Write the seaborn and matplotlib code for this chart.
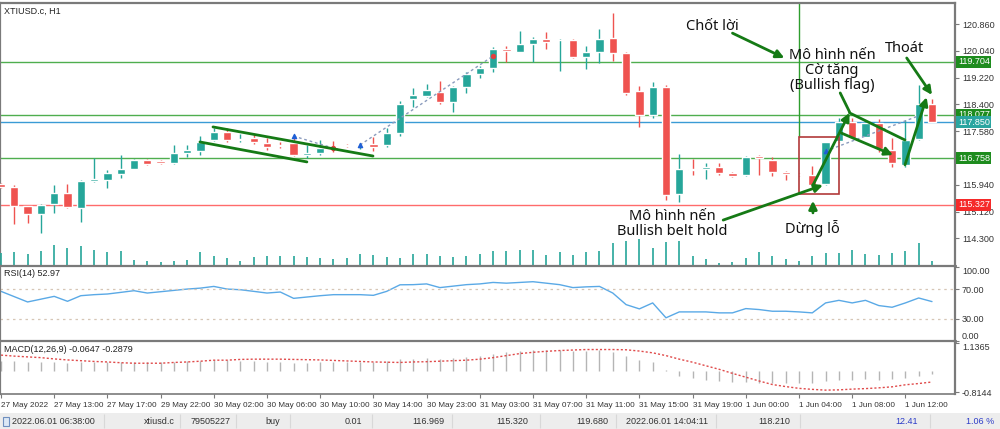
import numpy as np
import pandas as pd
import seaborn as sns
import matplotlib
matplotlib.use("Agg")
import matplotlib.pyplot as plt
from matplotlib.patches import Rectangle
import matplotlib.transforms as mtransforms

sns.set_style("white")
plt.rcParams['font.family'] = ['Liberation Sans', 'DejaVu Sans']

# H1 bars of XTIUSD.c, 27 May 09:00 .. 1 Jun 14:00
opens = [115.95, 115.86, 115.29, 115.05, 115.34, 115.68, 115.24, 116.05, 116.09, 116.27,
         116.43, 116.70, 116.67, 116.60, 116.92, 116.98, 117.31, 117.56, 117.32, 117.36,
         117.23, 117.17, 117.21, 116.85, 116.90, 117.09, 117.15, 117.14, 117.18, 117.16,
         117.53, 118.56, 118.67, 118.79, 118.48, 118.94, 119.33, 119.50, 120.09, 120.01,
         120.24, 120.40, 120.36, 120.37, 119.86, 119.99, 120.42, 119.96, 118.81, 118.08,
         118.92, 115.66, 116.43, 116.41, 116.49, 116.31, 116.24, 116.82, 116.70, 116.34,
         116.26, 116.24, 115.95, 117.28, 117.87, 117.41, 117.84, 117.00, 116.55, 117.33,
         118.40]
highs = [116.00, 115.93, 115.30, 115.35, 115.93, 115.96, 116.09, 116.77, 116.39, 116.85,
         116.72, 116.72, 116.70, 117.16, 117.16, 117.43, 117.68, 117.68, 117.49, 117.49,
         117.37, 117.25, 117.43, 117.16, 117.31, 117.28, 117.20, 117.22, 117.40, 117.68,
         118.50, 118.89, 119.02, 119.12, 118.96, 119.40, 119.57, 120.16, 120.19, 120.65,
         120.46, 120.62, 120.40, 120.40, 120.20, 120.70, 121.21, 120.00, 118.96, 119.09,
         118.99, 116.88, 116.72, 116.60, 116.61, 116.34, 116.82, 116.85, 116.80, 116.37,
         116.30, 116.51, 117.26, 117.97, 117.97, 117.92, 117.94, 117.36, 117.92, 118.99,
         118.57]
lows = [115.85, 114.74, 114.77, 114.46, 115.09, 115.24, 114.81, 116.03, 115.83, 116.15,
        116.42, 116.55, 116.57, 116.58, 116.79, 116.85, 117.29, 117.25, 117.26, 117.19,
        117.00, 117.08, 116.82, 116.76, 116.85, 116.94, 117.10, 117.05, 116.97, 117.10,
        117.43, 118.33, 118.63, 118.41, 118.18, 118.74, 119.20, 119.39, 119.71, 119.99,
        119.71, 120.09, 119.42, 119.82, 119.48, 119.66, 119.73, 118.69, 117.72, 117.98,
        115.47, 115.42, 116.23, 116.11, 116.24, 116.18, 116.22, 116.24, 116.21, 116.09,
        116.20, 115.87, 115.93, 117.26, 117.36, 117.39, 116.95, 116.49, 116.49, 117.30,
        117.85]
closes = [115.88, 115.29, 115.04, 115.32, 115.70, 115.25, 116.07, 116.11, 116.29, 116.43,
          116.70, 116.57, 116.60, 116.90, 117.00, 117.26, 117.56, 117.31, 117.35, 117.26,
          117.09, 117.12, 116.85, 116.90, 117.06, 117.05, 117.12, 117.17, 117.11, 117.52,
          118.40, 118.69, 118.84, 118.48, 118.94, 119.33, 119.50, 120.09, 120.03, 120.24,
          120.39, 120.30, 120.38, 119.84, 120.01, 120.39, 119.96, 118.76, 118.08, 118.92,
          115.63, 116.42, 116.40, 116.49, 116.31, 116.21, 116.80, 116.75, 116.34, 116.26,
          116.23, 115.93, 117.24, 117.85, 117.38, 117.84, 117.03, 116.60, 117.31, 118.40,
          117.87]
volumes = [1200, 1300, 1150, 1400, 2050, 1700, 1950, 1500, 1300, 1400,
           550, 400, 300, 400, 550, 1300, 950, 700, 400, 800,
           900, 900, 950, 800, 700, 650, 750, 1100, 1050, 800,
           750, 1150, 1150, 900, 800, 900, 1150, 1400, 1400, 1500,
           1500, 1050, 1350, 1000, 1300, 1450, 2200, 2450, 2600, 1700,
           2300, 2400, 900, 600, 200, 300, 700, 1300, 950, 650,
           450, 900, 1200, 1200, 1550, 1100, 1000, 1200, 1400, 2200,
           400]
rsi = [66.9, 59.7, 52.5, 56.3, 60.1, 53.4, 61.0, 62.4, 63.3, 65.5,
       67.8, 64.6, 66.4, 68.2, 70.0, 71.3, 73.6, 70.0, 69.1, 66.9,
       64.6, 66.0, 57.4, 59.2, 61.0, 62.4, 62.4, 62.4, 61.5, 66.9,
       75.8, 76.0, 77.0, 72.0, 74.0, 76.0, 77.0, 79.0, 78.0, 79.0,
       80.0, 78.0, 76.0, 72.0, 73.0, 73.6, 64.6, 48.9, 43.1, 51.2,
       31.0, 39.0, 39.0, 39.0, 37.7, 37.7, 43.5, 42.2, 39.9, 39.9,
       39.0, 37.7, 51.2, 54.7, 51.2, 54.7, 47.6, 45.3, 51.2, 57.9,
       53.0]
macd_main = [0.42, 0.40, 0.36, 0.36, 0.38, 0.34, 0.38, 0.38, 0.37, 0.38,
             0.38, 0.36, 0.36, 0.38, 0.40, 0.42, 0.45, 0.43, 0.42, 0.40,
             0.38, 0.38, 0.34, 0.34, 0.36, 0.36, 0.36, 0.37, 0.37, 0.40,
             0.47, 0.50, 0.52, 0.50, 0.53, 0.57, 0.62, 0.70, 0.76, 0.80,
             0.84, 0.84, 0.85, 0.82, 0.82, 0.84, 0.75, 0.62, 0.44, 0.35,
             0.04, -0.20, -0.27, -0.34, -0.40, -0.43, -0.42, -0.44, -0.44, -0.44,
             -0.44, -0.45, -0.40, -0.36, -0.36, -0.32, -0.33, -0.30, -0.28, -0.20,
             -0.12]
macd_signal = [0.64, 0.60, 0.57, 0.54, 0.49, 0.45, 0.42, 0.39, 0.37, 0.34,
               0.32, 0.32, 0.32, 0.35, 0.37, 0.40, 0.44, 0.44, 0.47, 0.48,
               0.48, 0.48, 0.47, 0.46, 0.45, 0.43, 0.41, 0.39, 0.37, 0.36,
               0.35, 0.37, 0.38, 0.40, 0.42, 0.44, 0.48, 0.54, 0.62, 0.70,
               0.75, 0.79, 0.82, 0.84, 0.86, 0.86, 0.86, 0.85, 0.80, 0.73,
               0.62, 0.48, 0.36, 0.22, 0.08, -0.08, -0.23, -0.38, -0.52, -0.60,
               -0.67, -0.71, -0.74, -0.73, -0.70, -0.68, -0.65, -0.61, -0.53, -0.48,
               -0.42]

xtick_pos = [0, 4, 8, 12, 16, 20, 24, 28, 32, 36, 40, 44, 48, 52, 56, 60, 64, 68]
xtick_labels = ['27 May 2022', '27 May 13:00', '27 May 17:00', '29 May 22:00', '30 May 02:00',
                '30 May 06:00', '30 May 10:00', '30 May 14:00', '30 May 23:00', '31 May 03:00',
                '31 May 07:00', '31 May 11:00', '31 May 15:00', '31 May 19:00', '1 Jun 00:00',
                '1 Jun 04:00', '1 Jun 08:00', '1 Jun 12:00']

# 116.760 sits under the 116.758 level label, so it is left out
price_ticks = [120.86, 120.04, 119.22, 118.40, 117.58, 115.94, 115.12, 114.30]
# horizontal levels: (price, line colour, label colour)
levels = [(119.704, '#4fae4f', '#1e8c1e'), (118.077, '#4fae4f', '#1e8c1e'),
          (117.850, '#3a9bd5', '#2aa5a0'), (116.758, '#4fae4f', '#1e8c1e'),
          (115.327, '#ff6b6b', '#f52a2a')]

df = pd.DataFrame({'bar': np.arange(len(opens)), 'open': opens, 'high': highs, 'low': lows,
                   'close': closes, 'vol': volumes, 'rsi': rsi,
                   'macd': macd_main, 'signal': macd_signal})

H = 429.0
def rect(top, bottom, left=0, right=955):
    return [left / 1000, (H - bottom) / H, (right - left) / 1000, (bottom - top) / H]

fig = plt.figure(figsize=(10, 4.29), dpi=100)
ax = fig.add_axes(rect(2.5, 265.5))
axv = fig.add_axes(rect(2.5, 265.5), sharex=ax)
ax_rsi = fig.add_axes(rect(265.5, 341), sharex=ax)
ax_m = fig.add_axes(rect(341, 393.5), sharex=ax)
ax_s = fig.add_axes([0, 0, 1, 16 / H])

up, dn = '#26a69a', '#ef5350'
grey = '#7a7a7a'
xlim = (-0.075, 71.73)

# volume (drawn behind candles)
axv.vlines(df['bar'], 0, df['vol'], color=up, lw=1.2)
axv.set_ylim(0, 26250)
axv.axis('off')
axv.patch.set_alpha(0)

# levels
for p, lc, bc in levels:
    ax.axhline(p, color=lc, lw=1, zorder=1)

# candles
colors = [up if c >= o else dn for o, c in zip(df['open'], df['close'])]
ax.vlines(df['bar'], df['low'], df['high'], color=colors, lw=1, zorder=3)
body = np.maximum((df['close'] - df['open']).abs(), 0.025)
ax.bar(df['bar'], body, bottom=np.minimum(df['open'], df['close']), width=0.62,
       color=colors, zorder=4)

# trade history lines and markers
trade_col = '#8a9bbd'
ax.plot([22, 25], [117.43, 117.06], color=trade_col, ls=(0, (2, 2)), lw=1, zorder=5)
ax.plot([27, 37], [117.16, 119.88], color=trade_col, ls=(0, (2, 2)), lw=1, zorder=5)
ax.plot([62, 69], [116.97, 118.05], color=trade_col, ls=(0, (2, 2)), lw=1, zorder=5)
ax.scatter([22, 27, 62], [117.43, 117.16, 116.97], marker='^', s=9, color='#1f5fd6', zorder=6)
ax.scatter([25, 37], [117.06, 119.88], marker='o', s=8, color='#e04040', zorder=6)

# hand-drawn pattern lines
g = '#157a15'
ax.plot([15.94, 27.97], [117.71, 116.82], color=g, lw=2, zorder=7)
ax.plot([14.96, 23.0], [117.25, 116.64], color=g, lw=2, zorder=7)
ax.plot([63.8, 67.97], [118.14, 117.31], color=g, lw=2, zorder=7)
ax.plot([63.1, 63.8], [118.75, 118.17], color=g, lw=2, zorder=7)
arr = dict(arrowstyle='-|>', color=g, lw=2, mutation_scale=12, shrinkA=0, shrinkB=0)
for (x0, y0), (x1, y1) in [((54.3, 114.86), (61.8, 115.93)),
                           ((55.0, 120.58), (58.9, 119.82)),
                           ((61.05, 115.08), (61.05, 115.45)),
                           ((61.05, 115.93), (63.8, 118.14)),
                           ((63.2, 117.52), (67.07, 116.85)),
                           ((67.97, 116.55), (69.6, 118.62)),
                           ((68.1, 119.82), (70.0, 118.69))]:
    ax.annotate('', xy=(x1, y1), xytext=(x0, y0), arrowprops=arr, zorder=8)

ax.vlines(60, 117.40, 121.6, color='#2e9e2e', lw=1, zorder=2)
ax.add_patch(Rectangle((60, 115.67), 3, 1.73, fill=False, ec='#b23a3a', lw=1.2, zorder=5))

ann = dict(family=['Noto Sans', 'DejaVu Sans'], fontsize=10.5, color='#111111',
           ha='center', va='center', zorder=9, linespacing=1.0)
ax.text(53.5, 120.77, 'Chốt lời', **ann)
ax.text(62.5, 119.45, 'Mô hình nến\nCờ tăng\n(Bullish flag)', **ann)
ax.text(67.97, 120.10, 'Thoát', **ann)
ax.text(50.5, 114.74, 'Mô hình nến\nBullish belt hold', **ann)
ax.text(61.0, 114.59, 'Dừng lỗ', **ann)
ax.text(0.004, 0.985, 'XTIUSD.c, H1', transform=ax.transAxes, fontsize=6.5,
        va='top', color='#222222')

ax.set_xlim(*xlim)
ax.set_ylim(113.47, 121.518)

# price scale on the right
ax.yaxis.tick_right()
ax.set_yticks(price_ticks)
ax.set_yticklabels([f'{p:.3f}' for p in price_ticks])
trans = mtransforms.blended_transform_factory(ax.transAxes, ax.transData)
for p, lc, bc in levels:
    ax.text(1.003, p, f'{p:.3f}', transform=trans, fontsize=6.5, color='white', va='center',
            ha='left', zorder=10, clip_on=False,
            bbox=dict(boxstyle='square,pad=0.18', fc=bc, ec='none'))

# RSI
sns.lineplot(data=df, x='bar', y='rsi', ax=ax_rsi, color='#5aa9e6', lw=1)
for lvl in (70, 30):
    ax_rsi.axhline(lvl, color='#d6c6b6', lw=0.9, ls=(0, (2, 3)))
ax_rsi.set_ylim(-0.5, 102)
ax_rsi.yaxis.tick_right()
ax_rsi.set_yticks([100, 70, 30, 0])
ax_rsi.set_yticklabels(['100.00', '70.00', '30.00', '0.00'])
ax_rsi.get_yticklabels()[0].set_va('top')
ax_rsi.get_yticklabels()[3].set_va('bottom')
ax_rsi.text(0.004, 0.96, 'RSI(14) 52.97', transform=ax_rsi.transAxes, fontsize=6.5,
            va='top', color='#222222')

# MACD
ax_m.vlines(df['bar'], 0, df['macd'], color='#b5b5b5', lw=1)
sns.lineplot(data=df, x='bar', y='signal', ax=ax_m, color='#e04a4a', lw=1, ls=(0, (1.5, 1.5)))
ax_m.set_ylim(-0.873, 1.196)
ax_m.yaxis.tick_right()
ax_m.set_yticks([1.1365, -0.8144])
ax_m.set_yticklabels(['1.1365', '-0.8144'])
ax_m.get_yticklabels()[0].set_va('top')
ax_m.text(0.004, 0.93, 'MACD(12,26,9) -0.0647 -0.2879', transform=ax_m.transAxes,
          fontsize=6.5, va='top', color='#222222')

ax_m.set_xticks(xtick_pos)
ax_m.set_xticklabels(xtick_labels, ha='left')

for a in (ax, ax_rsi, ax_m):
    a.set_xlabel('')
    a.set_ylabel('')
    a.tick_params(axis='y', which='both', right=True, left=False, length=3, width=0.8,
                  color=grey, labelsize=6.5, labelcolor='#333333', pad=2)
    a.tick_params(axis='x', bottom=False, labelbottom=False)
    for s in a.spines.values():
        s.set_color(grey)
        s.set_linewidth(1.6)
ax_m.tick_params(axis='x', bottom=True, labelbottom=True, length=3, width=0.8, color=grey,
                 labelsize=5.9, labelcolor='#333333', pad=3)
ax.spines['bottom'].set_linewidth(2)
ax_rsi.spines['bottom'].set_linewidth(2)
ax_m.spines['bottom'].set_linewidth(1.2)

# status bar (open position row)
ax_s.set_facecolor('#ededed')
ax_s.set_xlim(0, 1000)
ax_s.set_ylim(0, 16)
ax_s.set_xticks([])
ax_s.set_yticks([])
for s in ax_s.spines.values():
    s.set_visible(False)
for xs in [104, 180, 236, 290, 372, 452, 540, 616, 716, 800, 930]:
    ax_s.vlines(xs, 1, 15, color='#d8d8d8', lw=0.8)
cells = [(12, '2022.06.01 06:38:00', 'left', '#333333'), (175, 'xtiusd.c', 'right', '#333333'),
         (231, '79505227', 'right', '#333333'), (273, 'buy', 'center', '#333333'),
         (362, '0.01', 'right', '#333333'), (444, '116.969', 'right', '#333333'),
         (528, '115.320', 'right', '#333333'), (608, '119.680', 'right', '#333333'),
         (708, '2022.06.01 14:04:11', 'right', '#333333'), (790, '118.210', 'right', '#333333'),
         (918, '12.41', 'right', '#2c3cc8'), (994, '1.06 %', 'right', '#2c3cc8')]
for xs, t, ha, c in cells:
    ax_s.text(xs, 7.5, t, ha=ha, va='center', fontsize=6.5, color=c)
ax_s.add_patch(Rectangle((3, 3.5), 6, 9, fc='#dde8f5', ec='#6f8fbf', lw=0.8))

fig.savefig('out.png', dpi=100, facecolor='white')
